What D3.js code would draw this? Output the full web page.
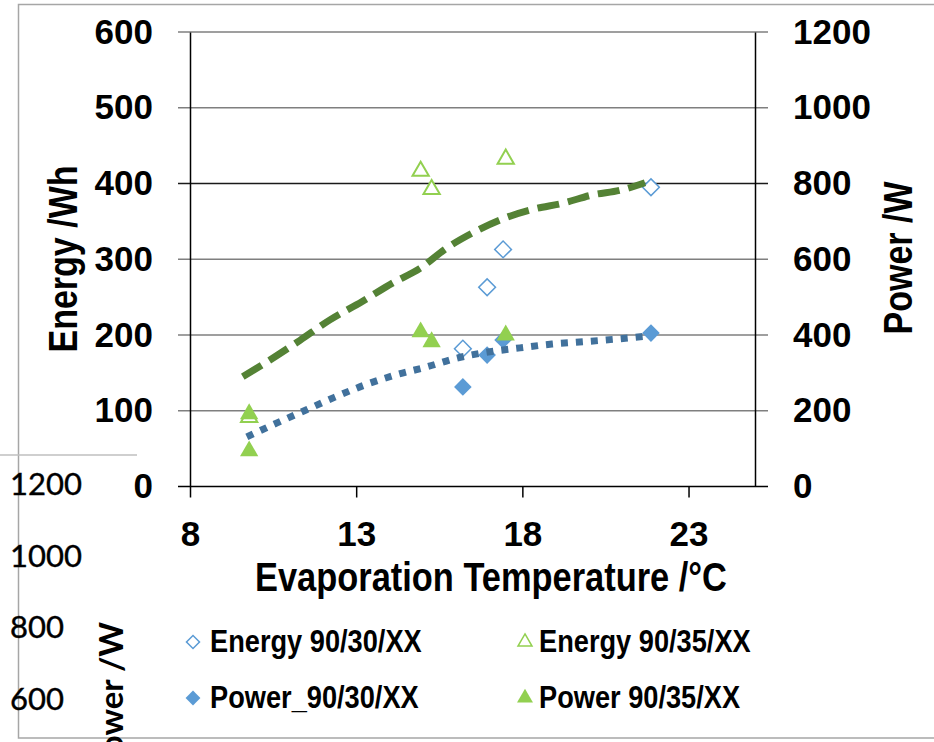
<!DOCTYPE html>
<html>
<head>
<meta charset="utf-8">
<script src="https://cdn.jsdelivr.net/npm/d3@7"></script>
<style>
  body { margin: 0; background: #fff; }
  svg { display: block; }
</style>
</head>
<body>
<div id="chart"></div>
<script>
// tick values
const xTicks = [8, 13, 18, 23];
const energyTicks = [0, 100, 200, 300, 400, 500, 600];
const powerTicks = [0, 200, 400, 600, 800, 1000, 1200];

// measured points
const energy3030X = [16.21, 16.94, 17.42, 21.87];
const energy3030Y = [182, 263, 313, 395];
const power3030X = [16.21, 16.94, 17.42, 21.87];
const power3030Y = [263, 347, 387, 405];
const energy3035X = [9.78, 14.94, 15.27, 17.5];
const energy3035Y = [94, 419, 395, 435];
const power3035X = [9.78, 9.78, 14.94, 15.27, 17.5];
const power3035Y = [197, 99, 413, 387, 405];

// trend lines
const energyTrendX = [9.59, 10.26, 11.31, 12.21, 13.17, 14.11, 14.92, 15.73, 16.51, 17.33, 18.32, 19.22, 20.12, 20.94, 21.69];
const energyTrendY = [145, 163, 193, 220, 244, 269, 288, 315, 335, 352, 366, 374, 385, 391, 401];
const powerTrendX = [9.71, 10.62, 11.49, 12.36, 13.26, 14.17, 15.13, 16.03, 16.97, 17.93, 18.89, 19.82, 20.79, 21.75];
const powerTrendY = [131, 168, 202, 236, 268, 294, 316, 339, 355, 366, 376, 382, 389, 397];

const seriesNames = ["Energy 90/30/XX", "Energy 90/35/XX", "Power_90/30/XX", "Power 90/35/XX"];

// bits of the other chart peeking out at bottom left
const ghostTicks = ["1200", "1000", "800", "600"];
const ghostTitle = "Power /W";

const narrow = "'Liberation Sans Narrow', 'Arial Narrow', 'Liberation Sans', sans-serif";
const wide = "'Liberation Sans', Arial, sans-serif";
const blue = "#5B9BD5";
const green = "#92D050";

const svg = d3.select("#chart").append("svg").attr("width", 934).attr("height", 742);

// squeeze bold text so it looks like Arial Narrow
function condense(sel, factor) {
  sel.each(function () {
    const w = this.getComputedTextLength();
    d3.select(this).attr("textLength", w * factor).attr("lengthAdjust", "spacingAndGlyphs");
  });
}

const x = d3.scaleLinear().domain([8, 25]).range([190, 755]);
const yE = d3.scaleLinear().domain([0, 600]).range([486.5, 32]);
const yP = d3.scaleLinear().domain([0, 1200]).range([486.5, 32]);

// outer frame
svg.append("rect")
  .attr("x", 18.5).attr("y", 4.5).attr("width", 940).attr("height", 733.5)
  .attr("fill", "none").attr("stroke", "#a6a6a6").attr("stroke-width", 1.5);

// ghost chart
svg.append("line").attr("x1", 0).attr("x2", 137).attr("y1", 455).attr("y2", 455)
  .attr("stroke", "#bfbfbf").attr("stroke-width", 1.5);
svg.selectAll(".ghostTick")
  .data(ghostTicks)
  .enter()
  .append("text")
  .attr("x", 10)
  .attr("y", (d, i) => 495 + i * 71.5)
  .attr("font-family", "Lato, 'Open Sans', sans-serif")
  .attr("font-size", 31)
  .attr("fill", "#000")
  .attr("stroke", "#000").attr("stroke-width", 0.4)
  .text((d) => d);
svg.append("text")
  .attr("transform", "translate(123,622) rotate(-90)")
  .attr("text-anchor", "end")
  .attr("font-family", "Lato, sans-serif")
  .attr("font-weight", "bold")
  .attr("font-size", 33)
  .text(ghostTitle);

// gridlines (with outside ticks on both sides)
svg.selectAll(".grid")
  .data(energyTicks)
  .enter()
  .append("line")
  .attr("x1", 178).attr("x2", 768)
  .attr("y1", (d) => yE(d)).attr("y2", (d) => yE(d))
  .attr("stroke", (d) => (d === 0 ? "#000" : d === 400 ? "#1a1a1a" : "#7f7f7f"))
  .attr("stroke-width", 1.5);

// left axis
const leftAxis = svg.append("g")
  .attr("transform", "translate(190,0)")
  .call(d3.axisLeft(yE).tickValues(energyTicks).tickSize(0).tickPadding(37));
leftAxis.select(".domain").attr("stroke", "#000").attr("stroke-width", 1.5);

// right axis
const rightAxis = svg.append("g")
  .attr("transform", "translate(755,0)")
  .call(d3.axisRight(yP).tickValues(powerTicks).tickFormat(d3.format("d")).tickSize(0).tickPadding(38));
rightAxis.select(".domain").attr("stroke", "#000").attr("stroke-width", 1.5);

// bottom axis
const bottomAxis = svg.append("g")
  .attr("transform", "translate(0,486.5)")
  .call(d3.axisBottom(x).tickValues(xTicks).tickSize(11).tickPadding(24));
bottomAxis.select(".domain").remove();
bottomAxis.selectAll(".tick line").attr("stroke", "#000").attr("stroke-width", 1.5);

svg.selectAll(".tick text")
  .attr("font-family", wide)
  .attr("font-weight", "bold")
  .attr("font-size", 35)
  .attr("fill", "#000");

// axis titles
svg.append("text")
  .attr("transform", "translate(77,259) rotate(-90)")
  .attr("text-anchor", "middle")
  .attr("font-family", narrow).attr("font-weight", "bold").attr("font-size", 40)
  .text("Energy /Wh")
  .call(condense, 0.85);
svg.append("text")
  .attr("transform", "translate(912,258) rotate(-90)")
  .attr("text-anchor", "middle")
  .attr("font-family", narrow).attr("font-weight", "bold").attr("font-size", 40)
  .text("Power /W")
  .call(condense, 0.85);
svg.append("text")
  .attr("x", 491).attr("y", 591)
  .attr("text-anchor", "middle")
  .attr("font-family", narrow).attr("font-weight", "bold").attr("font-size", 40)
  .text("Evaporation Temperature /°C")
  .call(condense, 0.86);

// markers
const diamond = (s) => d3.symbol().type(d3.symbolSquare).size(s)();
const triangle = (s) => d3.symbol().type(d3.symbolTriangle).size(s)();

const zip = (xs, ys) => xs.map((v, i) => ({ x: v, y: ys[i] }));

svg.selectAll(".e3030")
  .data(zip(energy3030X, energy3030Y))
  .enter()
  .append("path")
  .attr("d", diamond(140))
  .attr("transform", (d) => `translate(${x(d.x)},${yE(d.y)}) rotate(45)`)
  .attr("fill", "#fff").attr("stroke", blue).attr("stroke-width", 1.5);

svg.selectAll(".p3030")
  .data(zip(power3030X, power3030Y))
  .enter()
  .append("path")
  .attr("d", diamond(155))
  .attr("transform", (d) => `translate(${x(d.x)},${yP(d.y)}) rotate(45)`)
  .attr("fill", blue);

svg.selectAll(".e3035")
  .data(zip(energy3035X, energy3035Y))
  .enter()
  .append("path")
  .attr("d", triangle(115))
  .attr("transform", (d) => `translate(${x(d.x)},${yE(d.y) + 2})`)
  .attr("fill", "#fff").attr("stroke", green).attr("stroke-width", 2);

svg.selectAll(".p3035")
  .data(zip(power3035X, power3035Y))
  .enter()
  .append("path")
  .attr("d", triangle(145))
  .attr("transform", (d) => `translate(${x(d.x)},${yP(d.y) + 2})`)
  .attr("fill", green);

// trend lines on top
const lineE = d3.line().x((d) => x(d.x)).y((d) => yE(d.y)).curve(d3.curveMonotoneX);
const lineP = d3.line().x((d) => x(d.x)).y((d) => yP(d.y)).curve(d3.curveMonotoneX);

svg.append("path")
  .attr("d", lineE(zip(energyTrendX, energyTrendY)))
  .attr("fill", "none").attr("stroke", "#548235").attr("stroke-width", 7)
  .attr("stroke-dasharray", "22 9");

svg.append("path")
  .attr("d", lineP(zip(powerTrendX, powerTrendY)))
  .attr("fill", "none").attr("stroke", "#41719C").attr("stroke-width", 7)
  .attr("stroke-dasharray", "7 8");

// legend
const legendPos = [
  { mx: 193, tx: 210, y: 641 },
  { mx: 525, tx: 539, y: 641 },
  { mx: 193, tx: 210, y: 697 },
  { mx: 525, tx: 539, y: 697 },
];
const legendMarks = [
  { d: diamond(85), rot: 45, fill: "#fff", stroke: blue },
  { d: triangle(85), rot: 0, fill: "#fff", stroke: green },
  { d: diamond(110), rot: 45, fill: blue, stroke: "none" },
  { d: triangle(110), rot: 0, fill: green, stroke: "none" },
];

const legend = svg.selectAll(".legendItem")
  .data(seriesNames)
  .enter()
  .append("g")
  .classed("legendItem", true);

legend.append("path")
  .attr("d", (d, i) => legendMarks[i].d)
  .attr("transform", (d, i) => `translate(${legendPos[i].mx},${legendPos[i].y + 1}) rotate(${legendMarks[i].rot})`)
  .attr("fill", (d, i) => legendMarks[i].fill)
  .attr("stroke", (d, i) => legendMarks[i].stroke)
  .attr("stroke-width", 1.5);

legend.append("text")
  .attr("x", (d, i) => legendPos[i].tx)
  .attr("y", (d, i) => legendPos[i].y + 11)
  .attr("font-family", narrow).attr("font-weight", "bold").attr("font-size", 32)
  .text((d) => d)
  .call(condense, 0.85);
</script>
</body>
</html>
